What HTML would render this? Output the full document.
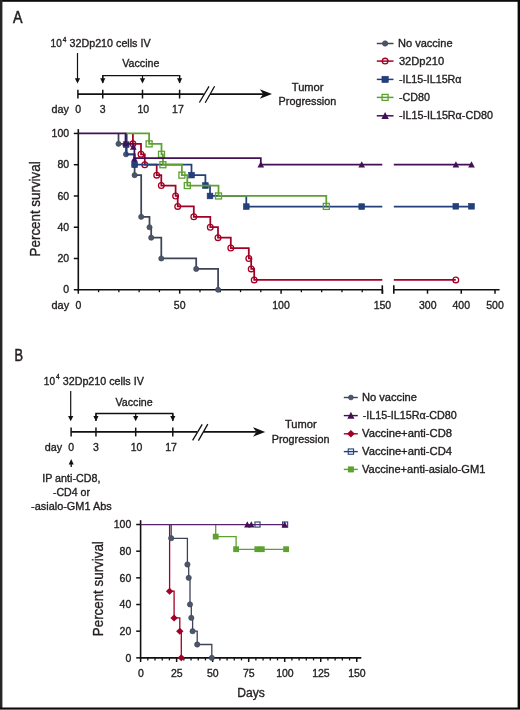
<!DOCTYPE html><html><head><meta charset="utf-8"><style>html,body{margin:0;padding:0;background:#fff;width:520px;height:710px;overflow:hidden}svg{display:block;will-change:transform;font-family:"Liberation Sans",sans-serif}</style></head><body><svg width="520" height="710" viewBox="0 0 520 710" font-family="'Liberation Sans', sans-serif">
<rect x="0" y="0" width="520" height="710" fill="#fff"/>
<rect x="0" y="0" width="520" height="1.8" fill="#0c0c0c"/>
<rect x="0" y="0" width="2.4" height="709" fill="#262626"/>
<rect x="517.6" y="0" width="2.4" height="709" fill="#0a0a0a"/>
<rect x="0" y="707.5" width="520" height="1.5" fill="#0a0a0a"/>
<rect x="0" y="709" width="520" height="1" fill="#666"/>
<text x="13.10" y="22.60" font-size="16" textLength="9.50" lengthAdjust="spacingAndGlyphs" fill="#231f20" stroke="#231f20" stroke-width="0.35" style="stroke-width:0.55">A</text>
<text x="14.50" y="360.80" font-size="16" textLength="8.50" lengthAdjust="spacingAndGlyphs" fill="#231f20" stroke="#231f20" stroke-width="0.35" style="stroke-width:0.55">B</text>
<g transform="translate(0,0)">
<text x="50.60" y="47.00" font-size="10.5" textLength="11.20" lengthAdjust="spacingAndGlyphs" fill="#231f20" stroke="#231f20" stroke-width="0.35">10</text>
<text x="62.70" y="41.60" font-size="6.6" textLength="3.60" lengthAdjust="spacingAndGlyphs" fill="#231f20" stroke="#231f20" stroke-width="0.35">4</text>
<text x="69.50" y="47.00" font-size="10.5" textLength="81.10" lengthAdjust="spacingAndGlyphs" fill="#231f20" stroke="#231f20" stroke-width="0.35">32Dp210 cells IV</text>
<line x1="77.50" y1="53.00" x2="77.50" y2="79.50" stroke="#111" stroke-width="1.2"/>
<path d="M74.9 78.2L80.1 78.2L77.5 83.4Z" fill="#111"/>
<text x="122.30" y="67.30" font-size="10.5" textLength="37.10" lengthAdjust="spacingAndGlyphs" fill="#231f20" stroke="#231f20" stroke-width="0.35">Vaccine</text>
<path d="M102.75 83 V75.6 H179.6 V83" stroke="#111" stroke-width="1.3" fill="none"/>
<path d="M100.15 78.2L105.35 78.2L102.75 83.4Z" fill="#111"/>
<line x1="102.75" y1="75.60" x2="102.75" y2="80.00" stroke="#111" stroke-width="1.2"/>
<path d="M139.90 78.2L145.10 78.2L142.50 83.4Z" fill="#111"/>
<line x1="142.50" y1="75.60" x2="142.50" y2="80.00" stroke="#111" stroke-width="1.2"/>
<path d="M177.00 78.2L182.20 78.2L179.60 83.4Z" fill="#111"/>
<line x1="179.60" y1="75.60" x2="179.60" y2="80.00" stroke="#111" stroke-width="1.2"/>
<line x1="77.90" y1="94.05" x2="203.80" y2="94.05" stroke="#111" stroke-width="1.7"/>
<line x1="210.00" y1="94.05" x2="263.00" y2="94.05" stroke="#111" stroke-width="1.7"/>
<line x1="77.90" y1="89.70" x2="77.90" y2="98.50" stroke="#111" stroke-width="1.5"/>
<line x1="102.75" y1="89.70" x2="102.75" y2="98.50" stroke="#111" stroke-width="1.5"/>
<line x1="142.50" y1="89.70" x2="142.50" y2="98.50" stroke="#111" stroke-width="1.5"/>
<line x1="179.60" y1="89.70" x2="179.60" y2="98.50" stroke="#111" stroke-width="1.5"/>
<line x1="199.40" y1="102.50" x2="209.00" y2="86.40" stroke="#111" stroke-width="1.3"/>
<line x1="205.20" y1="102.70" x2="214.60" y2="86.20" stroke="#111" stroke-width="1.3"/>
<path d="M272 94.05 L259.8 89.3 L263.2 94.05 L259.8 98.8 Z" fill="#111"/>
<text x="291.80" y="90.60" font-size="10.5" textLength="31.70" lengthAdjust="spacingAndGlyphs" fill="#231f20" stroke="#231f20" stroke-width="0.35">Tumor</text>
<text x="278.60" y="104.90" font-size="10.5" textLength="57.60" lengthAdjust="spacingAndGlyphs" fill="#231f20" stroke="#231f20" stroke-width="0.35">Progression</text>
<text x="51.50" y="113.45" font-size="10.5" textLength="17.40" lengthAdjust="spacingAndGlyphs" fill="#231f20" stroke="#231f20" stroke-width="0.35">day</text>
<text x="78.10" y="113.45" font-size="10.5" text-anchor="middle" fill="#231f20" stroke="#231f20" stroke-width="0.35">0</text>
<text x="102.70" y="113.45" font-size="10.5" text-anchor="middle" fill="#231f20" stroke="#231f20" stroke-width="0.35">3</text>
<text x="143.30" y="113.45" font-size="10.5" text-anchor="middle" fill="#231f20" stroke="#231f20" stroke-width="0.35">10</text>
<text x="177.90" y="113.45" font-size="10.5" text-anchor="middle" fill="#231f20" stroke="#231f20" stroke-width="0.35">17</text>
</g>
<line x1="78.30" y1="129.10" x2="78.30" y2="290.60" stroke="#111" stroke-width="1.6"/>
<line x1="73.80" y1="289.75" x2="78.30" y2="289.75" stroke="#111" stroke-width="1.5"/>
<text x="69.10" y="293.35" font-size="10.5" text-anchor="end" fill="#231f20" stroke="#231f20" stroke-width="0.35">0</text>
<line x1="73.80" y1="258.49" x2="78.30" y2="258.49" stroke="#111" stroke-width="1.5"/>
<text x="69.10" y="262.09" font-size="10.5" text-anchor="end" fill="#231f20" stroke="#231f20" stroke-width="0.35">20</text>
<line x1="73.80" y1="227.23" x2="78.30" y2="227.23" stroke="#111" stroke-width="1.5"/>
<text x="69.10" y="230.83" font-size="10.5" text-anchor="end" fill="#231f20" stroke="#231f20" stroke-width="0.35">40</text>
<line x1="73.80" y1="195.97" x2="78.30" y2="195.97" stroke="#111" stroke-width="1.5"/>
<text x="69.10" y="199.57" font-size="10.5" text-anchor="end" fill="#231f20" stroke="#231f20" stroke-width="0.35">60</text>
<line x1="73.80" y1="164.71" x2="78.30" y2="164.71" stroke="#111" stroke-width="1.5"/>
<text x="69.10" y="168.31" font-size="10.5" text-anchor="end" fill="#231f20" stroke="#231f20" stroke-width="0.35">80</text>
<line x1="73.80" y1="133.45" x2="78.30" y2="133.45" stroke="#111" stroke-width="1.5"/>
<text x="69.10" y="137.05" font-size="10.5" text-anchor="end" fill="#231f20" stroke="#231f20" stroke-width="0.35">100</text>
<line x1="77.50" y1="289.75" x2="382.80" y2="289.75" stroke="#111" stroke-width="1.7"/>
<line x1="382.30" y1="285.30" x2="382.30" y2="293.70" stroke="#111" stroke-width="1.6"/>
<line x1="78.30" y1="289.75" x2="78.30" y2="293.70" stroke="#111" stroke-width="1.5"/>
<line x1="98.58" y1="289.75" x2="98.58" y2="292.20" stroke="#111" stroke-width="1.3"/>
<line x1="118.86" y1="289.75" x2="118.86" y2="292.20" stroke="#111" stroke-width="1.3"/>
<line x1="139.14" y1="289.75" x2="139.14" y2="292.20" stroke="#111" stroke-width="1.3"/>
<line x1="159.42" y1="289.75" x2="159.42" y2="292.20" stroke="#111" stroke-width="1.3"/>
<line x1="179.70" y1="289.75" x2="179.70" y2="293.70" stroke="#111" stroke-width="1.5"/>
<line x1="199.98" y1="289.75" x2="199.98" y2="292.20" stroke="#111" stroke-width="1.3"/>
<line x1="220.26" y1="289.75" x2="220.26" y2="292.20" stroke="#111" stroke-width="1.3"/>
<line x1="240.54" y1="289.75" x2="240.54" y2="292.20" stroke="#111" stroke-width="1.3"/>
<line x1="260.82" y1="289.75" x2="260.82" y2="292.20" stroke="#111" stroke-width="1.3"/>
<line x1="281.10" y1="289.75" x2="281.10" y2="293.70" stroke="#111" stroke-width="1.5"/>
<line x1="301.38" y1="289.75" x2="301.38" y2="292.20" stroke="#111" stroke-width="1.3"/>
<line x1="321.66" y1="289.75" x2="321.66" y2="292.20" stroke="#111" stroke-width="1.3"/>
<line x1="341.94" y1="289.75" x2="341.94" y2="292.20" stroke="#111" stroke-width="1.3"/>
<line x1="362.22" y1="289.75" x2="362.22" y2="292.20" stroke="#111" stroke-width="1.3"/>
<line x1="382.50" y1="289.75" x2="382.50" y2="293.70" stroke="#111" stroke-width="1.5"/>
<line x1="393.30" y1="289.75" x2="499.60" y2="289.75" stroke="#111" stroke-width="1.7"/>
<line x1="393.80" y1="285.30" x2="393.80" y2="293.70" stroke="#111" stroke-width="1.6"/>
<line x1="427.50" y1="289.75" x2="427.50" y2="293.70" stroke="#111" stroke-width="1.5"/>
<line x1="461.25" y1="289.75" x2="461.25" y2="293.70" stroke="#111" stroke-width="1.5"/>
<line x1="495.00" y1="289.75" x2="495.00" y2="293.70" stroke="#111" stroke-width="1.5"/>
<line x1="528.75" y1="289.75" x2="528.75" y2="293.70" stroke="#111" stroke-width="1.5"/>
<text x="51.50" y="308.60" font-size="10.5" textLength="17.60" lengthAdjust="spacingAndGlyphs" fill="#231f20" stroke="#231f20" stroke-width="0.35">day</text>
<text x="78.40" y="308.60" font-size="10.5" text-anchor="middle" fill="#231f20" stroke="#231f20" stroke-width="0.35">0</text>
<text x="179.70" y="308.60" font-size="10.5" text-anchor="middle" fill="#231f20" stroke="#231f20" stroke-width="0.35">50</text>
<text x="281.00" y="308.60" font-size="10.5" text-anchor="middle" fill="#231f20" stroke="#231f20" stroke-width="0.35">100</text>
<text x="382.40" y="308.60" font-size="10.5" text-anchor="middle" fill="#231f20" stroke="#231f20" stroke-width="0.35">150</text>
<text x="427.80" y="308.60" font-size="10.5" text-anchor="middle" fill="#231f20" stroke="#231f20" stroke-width="0.35">300</text>
<text x="461.30" y="308.60" font-size="10.5" text-anchor="middle" fill="#231f20" stroke="#231f20" stroke-width="0.35">400</text>
<text x="495.00" y="308.60" font-size="10.5" text-anchor="middle" fill="#231f20" stroke="#231f20" stroke-width="0.35">500</text>
<text x="0" y="0" font-size="13.8" text-anchor="middle" textLength="95" lengthAdjust="spacingAndGlyphs" fill="#231f20" stroke="#231f20" stroke-width="0.35" transform="translate(40.2,208.9) rotate(-90)">Percent survival</text>
<path d="M118.5 133.45 H118.5 V143.87 H126 V154.29 H134.6 V164.71 H134.6 V175.13 H141.2 V216.81 H149.5 V227.23 H151.2 V237.65 H161.3 V258.49 H196.2 V268.91 H218.1 V289.75" stroke="#3d4457" stroke-width="1.75" fill="none"/>
<circle cx="118.50" cy="143.87" r="2.60" fill="#4d5569" stroke="#3d4457" stroke-width="0.6"/>
<circle cx="126.00" cy="154.29" r="2.60" fill="#4d5569" stroke="#3d4457" stroke-width="0.6"/>
<circle cx="134.60" cy="164.71" r="2.60" fill="#4d5569" stroke="#3d4457" stroke-width="0.6"/>
<circle cx="134.60" cy="175.13" r="2.60" fill="#4d5569" stroke="#3d4457" stroke-width="0.6"/>
<circle cx="141.20" cy="216.81" r="2.60" fill="#4d5569" stroke="#3d4457" stroke-width="0.6"/>
<circle cx="149.50" cy="227.23" r="2.60" fill="#4d5569" stroke="#3d4457" stroke-width="0.6"/>
<circle cx="151.20" cy="237.65" r="2.60" fill="#4d5569" stroke="#3d4457" stroke-width="0.6"/>
<circle cx="161.30" cy="258.49" r="2.60" fill="#4d5569" stroke="#3d4457" stroke-width="0.6"/>
<circle cx="196.20" cy="268.91" r="2.60" fill="#4d5569" stroke="#3d4457" stroke-width="0.6"/>
<circle cx="218.10" cy="289.75" r="2.60" fill="#4d5569" stroke="#3d4457" stroke-width="0.6"/>
<path d="M132.9 133.45 H132.9 V143.87 H141 V154.29 H144.8 V164.71 H156.7 V175.13 H161.3 V185.55 H175.6 V195.97 H177.7 V206.39 H193.8 V216.81 H210.3 V227.23 H218 V237.65 H230.8 V248.07 H248.8 V258.49 H251.2 V268.91 H254.2 V279.9 H382.3 M393.8 279.9 H455.8" stroke="#a20026" stroke-width="1.75" fill="none"/>
<circle cx="132.90" cy="143.87" r="2.85" fill="none" stroke="#a20026" stroke-width="1.3"/>
<circle cx="141.00" cy="154.29" r="2.85" fill="none" stroke="#a20026" stroke-width="1.3"/>
<circle cx="144.80" cy="164.71" r="2.85" fill="none" stroke="#a20026" stroke-width="1.3"/>
<circle cx="156.70" cy="175.13" r="2.85" fill="none" stroke="#a20026" stroke-width="1.3"/>
<circle cx="161.30" cy="185.55" r="2.85" fill="none" stroke="#a20026" stroke-width="1.3"/>
<circle cx="175.60" cy="195.97" r="2.85" fill="none" stroke="#a20026" stroke-width="1.3"/>
<circle cx="177.70" cy="206.39" r="2.85" fill="none" stroke="#a20026" stroke-width="1.3"/>
<circle cx="193.80" cy="216.81" r="2.85" fill="none" stroke="#a20026" stroke-width="1.3"/>
<circle cx="210.30" cy="227.23" r="2.85" fill="none" stroke="#a20026" stroke-width="1.3"/>
<circle cx="218.00" cy="237.65" r="2.85" fill="none" stroke="#a20026" stroke-width="1.3"/>
<circle cx="230.80" cy="248.07" r="2.85" fill="none" stroke="#a20026" stroke-width="1.3"/>
<circle cx="248.80" cy="258.49" r="2.85" fill="none" stroke="#a20026" stroke-width="1.3"/>
<circle cx="251.20" cy="268.91" r="2.85" fill="none" stroke="#a20026" stroke-width="1.3"/>
<circle cx="254.20" cy="279.90" r="2.85" fill="none" stroke="#a20026" stroke-width="1.3"/>
<circle cx="455.80" cy="279.90" r="2.85" fill="none" stroke="#a20026" stroke-width="1.3"/>
<path d="M126.7 133.45 H126.7 V154.29 H134.6 V164.71 H191.5 V175.13 H205.4 V185.55 H210 V195.97 H246.3 V206.7 H382.3 M393.8 206.7 H471.5" stroke="#23407a" stroke-width="1.75" fill="none"/>
<rect x="123.35" y="141.75" width="5.7" height="5.7" fill="#23407a" stroke="#1d3672" stroke-width="0.6"/>
<rect x="131.75" y="161.86" width="5.7" height="5.7" fill="#23407a" stroke="#1d3672" stroke-width="0.6"/>
<rect x="188.65" y="172.28" width="5.7" height="5.7" fill="#23407a" stroke="#1d3672" stroke-width="0.6"/>
<rect x="202.55" y="182.70" width="5.7" height="5.7" fill="#23407a" stroke="#1d3672" stroke-width="0.6"/>
<rect x="207.15" y="193.12" width="5.7" height="5.7" fill="#23407a" stroke="#1d3672" stroke-width="0.6"/>
<rect x="243.45" y="203.75" width="5.7" height="5.7" fill="#23407a" stroke="#1d3672" stroke-width="0.6"/>
<rect x="358.85" y="203.75" width="5.7" height="5.7" fill="#23407a" stroke="#1d3672" stroke-width="0.6"/>
<rect x="452.95" y="203.45" width="5.7" height="5.7" fill="#23407a" stroke="#1d3672" stroke-width="0.6"/>
<rect x="468.65" y="203.45" width="5.7" height="5.7" fill="#23407a" stroke="#1d3672" stroke-width="0.6"/>
<path d="M125.3 133.45 H149.1 V143.87 H161.5 V154.29 H162.9 V164.71 H181.9 V175.13 H187.3 V185.55 H218.5 V195.97 H326.3 V206.39" stroke="#5da131" stroke-width="1.75" fill="none"/>
<rect x="146.10" y="140.87" width="6.00" height="6.00" fill="none" stroke="#5da131" stroke-width="1.3"/>
<rect x="158.50" y="151.29" width="6.00" height="6.00" fill="none" stroke="#5da131" stroke-width="1.3"/>
<rect x="159.90" y="161.71" width="6.00" height="6.00" fill="none" stroke="#5da131" stroke-width="1.3"/>
<rect x="178.90" y="172.13" width="6.00" height="6.00" fill="none" stroke="#5da131" stroke-width="1.3"/>
<rect x="184.30" y="182.55" width="6.00" height="6.00" fill="none" stroke="#5da131" stroke-width="1.3"/>
<rect x="215.50" y="192.97" width="6.00" height="6.00" fill="none" stroke="#5da131" stroke-width="1.3"/>
<rect x="323.30" y="203.39" width="6.00" height="6.00" fill="none" stroke="#5da131" stroke-width="1.3"/>
<path d="M78.3 133.45 H125.5 V143.87 H133.3 V147.3 H134.4 V158.2 H260.8 V164.71 H382.3 M393.8 164.71 H471.5" stroke="#430f57" stroke-width="1.75" fill="none"/>
<path d="M125.50 139.95L128.80 146.22L122.20 146.22Z" fill="#430f57"/>
<path d="M133.30 143.55L136.60 149.82L130.00 149.82Z" fill="#430f57"/>
<path d="M134.40 155.55L137.70 161.82L131.10 161.82Z" fill="#430f57"/>
<path d="M260.80 161.26L264.10 167.53L257.50 167.53Z" fill="#430f57"/>
<path d="M361.70 161.26L365.00 167.53L358.40 167.53Z" fill="#430f57"/>
<path d="M455.90 161.26L459.20 167.53L452.60 167.53Z" fill="#430f57"/>
<path d="M471.50 161.26L474.80 167.53L468.20 167.53Z" fill="#430f57"/>
<line x1="376.80" y1="43.50" x2="393.50" y2="43.50" stroke="#3d4457" stroke-width="1.5"/>
<circle cx="385.10" cy="43.50" r="2.70" fill="#4d5569" stroke="#3d4457" stroke-width="0.6"/>
<text x="398.00" y="47.10" font-size="10.5" textLength="54.60" lengthAdjust="spacingAndGlyphs" fill="#231f20" stroke="#231f20" stroke-width="0.35">No vaccine</text>
<line x1="376.80" y1="61.10" x2="393.50" y2="61.10" stroke="#a20026" stroke-width="1.5"/>
<circle cx="385.10" cy="61.10" r="2.85" fill="none" stroke="#a20026" stroke-width="1.3"/>
<text x="398.90" y="64.70" font-size="10.5" textLength="45.20" lengthAdjust="spacingAndGlyphs" fill="#231f20" stroke="#231f20" stroke-width="0.35">32Dp210</text>
<line x1="376.80" y1="79.40" x2="393.50" y2="79.40" stroke="#23407a" stroke-width="1.5"/>
<rect x="381.95" y="76.25" width="6.3" height="6.3" fill="#23407a" stroke="#1d3672" stroke-width="0.6"/>
<text x="398.90" y="83.00" font-size="10.5" textLength="62.60" lengthAdjust="spacingAndGlyphs" fill="#231f20" stroke="#231f20" stroke-width="0.35">-IL15-IL15R&#945;</text>
<line x1="376.80" y1="97.40" x2="393.50" y2="97.40" stroke="#5da131" stroke-width="1.5"/>
<rect x="382.10" y="94.40" width="6.00" height="6.00" fill="none" stroke="#5da131" stroke-width="1.3"/>
<text x="398.90" y="101.00" font-size="10.5" textLength="31.00" lengthAdjust="spacingAndGlyphs" fill="#231f20" stroke="#231f20" stroke-width="0.35">-CD80</text>
<line x1="376.80" y1="115.80" x2="393.50" y2="115.80" stroke="#430f57" stroke-width="1.5"/>
<path d="M385.10 111.93L388.80 118.96L381.40 118.96Z" fill="#430f57"/>
<text x="398.90" y="119.40" font-size="10.5" textLength="94.00" lengthAdjust="spacingAndGlyphs" fill="#231f20" stroke="#231f20" stroke-width="0.35">-IL15-IL15R&#945;-CD80</text>
<g transform="translate(-6.8,337.9)">
<text x="50.60" y="47.00" font-size="10.5" textLength="11.20" lengthAdjust="spacingAndGlyphs" fill="#231f20" stroke="#231f20" stroke-width="0.35">10</text>
<text x="62.70" y="41.60" font-size="6.6" textLength="3.60" lengthAdjust="spacingAndGlyphs" fill="#231f20" stroke="#231f20" stroke-width="0.35">4</text>
<text x="69.50" y="47.00" font-size="10.5" textLength="81.10" lengthAdjust="spacingAndGlyphs" fill="#231f20" stroke="#231f20" stroke-width="0.35">32Dp210 cells IV</text>
<line x1="77.50" y1="53.00" x2="77.50" y2="79.50" stroke="#111" stroke-width="1.2"/>
<path d="M74.9 78.2L80.1 78.2L77.5 83.4Z" fill="#111"/>
<text x="122.30" y="67.70" font-size="10.5" textLength="37.10" lengthAdjust="spacingAndGlyphs" fill="#231f20" stroke="#231f20" stroke-width="0.35">Vaccine</text>
<path d="M102.75 83 V75.6 H179.6 V83" stroke="#111" stroke-width="1.3" fill="none"/>
<path d="M100.15 78.2L105.35 78.2L102.75 83.4Z" fill="#111"/>
<line x1="102.75" y1="75.60" x2="102.75" y2="80.00" stroke="#111" stroke-width="1.2"/>
<path d="M139.90 78.2L145.10 78.2L142.50 83.4Z" fill="#111"/>
<line x1="142.50" y1="75.60" x2="142.50" y2="80.00" stroke="#111" stroke-width="1.2"/>
<path d="M177.00 78.2L182.20 78.2L179.60 83.4Z" fill="#111"/>
<line x1="179.60" y1="75.60" x2="179.60" y2="80.00" stroke="#111" stroke-width="1.2"/>
<line x1="77.90" y1="94.05" x2="203.80" y2="94.05" stroke="#111" stroke-width="1.7"/>
<line x1="210.00" y1="94.05" x2="263.00" y2="94.05" stroke="#111" stroke-width="1.7"/>
<line x1="77.90" y1="89.70" x2="77.90" y2="98.50" stroke="#111" stroke-width="1.5"/>
<line x1="102.75" y1="89.70" x2="102.75" y2="98.50" stroke="#111" stroke-width="1.5"/>
<line x1="142.50" y1="89.70" x2="142.50" y2="98.50" stroke="#111" stroke-width="1.5"/>
<line x1="179.60" y1="89.70" x2="179.60" y2="98.50" stroke="#111" stroke-width="1.5"/>
<line x1="199.40" y1="102.50" x2="209.00" y2="86.40" stroke="#111" stroke-width="1.3"/>
<line x1="205.20" y1="102.70" x2="214.60" y2="86.20" stroke="#111" stroke-width="1.3"/>
<path d="M272 94.05 L259.8 89.3 L263.2 94.05 L259.8 98.8 Z" fill="#111"/>
<text x="291.80" y="90.60" font-size="10.5" textLength="31.70" lengthAdjust="spacingAndGlyphs" fill="#231f20" stroke="#231f20" stroke-width="0.35">Tumor</text>
<text x="278.60" y="104.90" font-size="10.5" textLength="57.60" lengthAdjust="spacingAndGlyphs" fill="#231f20" stroke="#231f20" stroke-width="0.35">Progression</text>
<text x="51.50" y="113.45" font-size="10.5" textLength="17.40" lengthAdjust="spacingAndGlyphs" fill="#231f20" stroke="#231f20" stroke-width="0.35">day</text>
<text x="78.10" y="113.45" font-size="10.5" text-anchor="middle" fill="#231f20" stroke="#231f20" stroke-width="0.35">0</text>
<text x="102.70" y="113.45" font-size="10.5" text-anchor="middle" fill="#231f20" stroke="#231f20" stroke-width="0.35">3</text>
<text x="143.30" y="113.45" font-size="10.5" text-anchor="middle" fill="#231f20" stroke="#231f20" stroke-width="0.35">10</text>
<text x="177.90" y="113.45" font-size="10.5" text-anchor="middle" fill="#231f20" stroke="#231f20" stroke-width="0.35">17</text>
</g>
<line x1="71.20" y1="463.50" x2="71.20" y2="466.90" stroke="#111" stroke-width="1.3"/>
<path d="M68.7 464.6L73.7 464.6L71.2 458.9Z" fill="#111"/>
<text x="71.30" y="481.70" font-size="10.5" text-anchor="middle" textLength="58.20" lengthAdjust="spacingAndGlyphs" fill="#231f20" stroke="#231f20" stroke-width="0.35">IP anti-CD8,</text>
<text x="71.50" y="495.60" font-size="10.5" text-anchor="middle" textLength="37.10" lengthAdjust="spacingAndGlyphs" fill="#231f20" stroke="#231f20" stroke-width="0.35">-CD4 or</text>
<text x="71.40" y="509.90" font-size="10.5" text-anchor="middle" textLength="80.60" lengthAdjust="spacingAndGlyphs" fill="#231f20" stroke="#231f20" stroke-width="0.35">-asialo-GM1 Abs</text>
<line x1="140.60" y1="520.20" x2="140.60" y2="658.60" stroke="#111" stroke-width="1.6"/>
<line x1="136.20" y1="657.85" x2="140.60" y2="657.85" stroke="#111" stroke-width="1.5"/>
<text x="131.30" y="661.75" font-size="10.5" text-anchor="end" fill="#231f20" stroke="#231f20" stroke-width="0.35">0</text>
<line x1="136.20" y1="631.18" x2="140.60" y2="631.18" stroke="#111" stroke-width="1.5"/>
<text x="131.30" y="635.08" font-size="10.5" text-anchor="end" fill="#231f20" stroke="#231f20" stroke-width="0.35">20</text>
<line x1="136.20" y1="604.52" x2="140.60" y2="604.52" stroke="#111" stroke-width="1.5"/>
<text x="131.30" y="608.42" font-size="10.5" text-anchor="end" fill="#231f20" stroke="#231f20" stroke-width="0.35">40</text>
<line x1="136.20" y1="577.85" x2="140.60" y2="577.85" stroke="#111" stroke-width="1.5"/>
<text x="131.30" y="581.75" font-size="10.5" text-anchor="end" fill="#231f20" stroke="#231f20" stroke-width="0.35">60</text>
<line x1="136.20" y1="551.19" x2="140.60" y2="551.19" stroke="#111" stroke-width="1.5"/>
<text x="131.30" y="555.09" font-size="10.5" text-anchor="end" fill="#231f20" stroke="#231f20" stroke-width="0.35">80</text>
<line x1="136.20" y1="524.52" x2="140.60" y2="524.52" stroke="#111" stroke-width="1.5"/>
<text x="131.30" y="528.42" font-size="10.5" text-anchor="end" fill="#231f20" stroke="#231f20" stroke-width="0.35">100</text>
<line x1="139.90" y1="657.85" x2="361.30" y2="657.85" stroke="#111" stroke-width="1.7"/>
<line x1="140.60" y1="657.85" x2="140.60" y2="662.00" stroke="#111" stroke-width="1.5"/>
<line x1="147.81" y1="657.85" x2="147.81" y2="660.40" stroke="#111" stroke-width="1.3"/>
<line x1="155.01" y1="657.85" x2="155.01" y2="660.40" stroke="#111" stroke-width="1.3"/>
<line x1="162.22" y1="657.85" x2="162.22" y2="660.40" stroke="#111" stroke-width="1.3"/>
<line x1="169.42" y1="657.85" x2="169.42" y2="660.40" stroke="#111" stroke-width="1.3"/>
<line x1="176.62" y1="657.85" x2="176.62" y2="662.00" stroke="#111" stroke-width="1.5"/>
<line x1="183.83" y1="657.85" x2="183.83" y2="660.40" stroke="#111" stroke-width="1.3"/>
<line x1="191.03" y1="657.85" x2="191.03" y2="660.40" stroke="#111" stroke-width="1.3"/>
<line x1="198.24" y1="657.85" x2="198.24" y2="660.40" stroke="#111" stroke-width="1.3"/>
<line x1="205.44" y1="657.85" x2="205.44" y2="660.40" stroke="#111" stroke-width="1.3"/>
<line x1="212.65" y1="657.85" x2="212.65" y2="662.00" stroke="#111" stroke-width="1.5"/>
<line x1="219.86" y1="657.85" x2="219.86" y2="660.40" stroke="#111" stroke-width="1.3"/>
<line x1="227.06" y1="657.85" x2="227.06" y2="660.40" stroke="#111" stroke-width="1.3"/>
<line x1="234.26" y1="657.85" x2="234.26" y2="660.40" stroke="#111" stroke-width="1.3"/>
<line x1="241.47" y1="657.85" x2="241.47" y2="660.40" stroke="#111" stroke-width="1.3"/>
<line x1="248.68" y1="657.85" x2="248.68" y2="662.00" stroke="#111" stroke-width="1.5"/>
<line x1="255.88" y1="657.85" x2="255.88" y2="660.40" stroke="#111" stroke-width="1.3"/>
<line x1="263.08" y1="657.85" x2="263.08" y2="660.40" stroke="#111" stroke-width="1.3"/>
<line x1="270.29" y1="657.85" x2="270.29" y2="660.40" stroke="#111" stroke-width="1.3"/>
<line x1="277.50" y1="657.85" x2="277.50" y2="660.40" stroke="#111" stroke-width="1.3"/>
<line x1="284.70" y1="657.85" x2="284.70" y2="662.00" stroke="#111" stroke-width="1.5"/>
<line x1="291.90" y1="657.85" x2="291.90" y2="660.40" stroke="#111" stroke-width="1.3"/>
<line x1="299.11" y1="657.85" x2="299.11" y2="660.40" stroke="#111" stroke-width="1.3"/>
<line x1="306.31" y1="657.85" x2="306.31" y2="660.40" stroke="#111" stroke-width="1.3"/>
<line x1="313.52" y1="657.85" x2="313.52" y2="660.40" stroke="#111" stroke-width="1.3"/>
<line x1="320.73" y1="657.85" x2="320.73" y2="662.00" stroke="#111" stroke-width="1.5"/>
<line x1="327.93" y1="657.85" x2="327.93" y2="660.40" stroke="#111" stroke-width="1.3"/>
<line x1="335.13" y1="657.85" x2="335.13" y2="660.40" stroke="#111" stroke-width="1.3"/>
<line x1="342.34" y1="657.85" x2="342.34" y2="660.40" stroke="#111" stroke-width="1.3"/>
<line x1="349.55" y1="657.85" x2="349.55" y2="660.40" stroke="#111" stroke-width="1.3"/>
<line x1="356.75" y1="657.85" x2="356.75" y2="662.00" stroke="#111" stroke-width="1.5"/>
<text x="140.80" y="676.60" font-size="10.5" text-anchor="middle" fill="#231f20" stroke="#231f20" stroke-width="0.35">0</text>
<text x="176.82" y="676.60" font-size="10.5" text-anchor="middle" fill="#231f20" stroke="#231f20" stroke-width="0.35">25</text>
<text x="212.85" y="676.60" font-size="10.5" text-anchor="middle" fill="#231f20" stroke="#231f20" stroke-width="0.35">50</text>
<text x="248.88" y="676.60" font-size="10.5" text-anchor="middle" fill="#231f20" stroke="#231f20" stroke-width="0.35">75</text>
<text x="284.90" y="676.60" font-size="10.5" text-anchor="middle" fill="#231f20" stroke="#231f20" stroke-width="0.35">100</text>
<text x="320.93" y="676.60" font-size="10.5" text-anchor="middle" fill="#231f20" stroke="#231f20" stroke-width="0.35">125</text>
<text x="356.95" y="676.60" font-size="10.5" text-anchor="middle" fill="#231f20" stroke="#231f20" stroke-width="0.35">150</text>
<text x="237.30" y="696.60" font-size="12.4" textLength="27.60" lengthAdjust="spacingAndGlyphs" fill="#231f20" stroke="#231f20" stroke-width="0.35">Days</text>
<text x="0" y="0" font-size="13.8" text-anchor="middle" textLength="95" lengthAdjust="spacingAndGlyphs" fill="#231f20" stroke="#231f20" stroke-width="0.35" transform="translate(102.7,588.7) rotate(-90)">Percent survival</text>
<path d="M169.6 524.55 V591.2 H174.1 V617.8 H179.8 V631.1 H181.3 V657.85" stroke="#a20026" stroke-width="1.3" fill="none"/>
<path d="M169.60 587.80L173.30 591.30L169.60 594.80L165.90 591.30Z" fill="#a20026"/>
<path d="M174.10 614.40L177.80 617.90L174.10 621.40L170.40 617.90Z" fill="#a20026"/>
<path d="M179.80 627.70L183.50 631.20L179.80 634.70L176.10 631.20Z" fill="#a20026"/>
<path d="M181.30 654.35L185.00 657.85L181.30 661.35L177.60 657.85Z" fill="#a20026"/>
<path d="M171.2 524.55 V538.3 H187.4 V564.5 H188.7 V577.8 H190.0 V604.4 H191.3 V617.8 H192.6 V631.2 H197.2 V644.5 H211.8 V657.85" stroke="#3d4457" stroke-width="1.3" fill="none"/>
<circle cx="171.20" cy="538.20" r="2.65" fill="#4d5569" stroke="#3d4457" stroke-width="0.6"/>
<circle cx="187.40" cy="564.50" r="2.65" fill="#4d5569" stroke="#3d4457" stroke-width="0.6"/>
<circle cx="188.70" cy="577.80" r="2.65" fill="#4d5569" stroke="#3d4457" stroke-width="0.6"/>
<circle cx="190.00" cy="604.40" r="2.65" fill="#4d5569" stroke="#3d4457" stroke-width="0.6"/>
<circle cx="191.30" cy="617.80" r="2.65" fill="#4d5569" stroke="#3d4457" stroke-width="0.6"/>
<circle cx="192.60" cy="631.20" r="2.65" fill="#4d5569" stroke="#3d4457" stroke-width="0.6"/>
<circle cx="197.20" cy="644.50" r="2.65" fill="#4d5569" stroke="#3d4457" stroke-width="0.6"/>
<circle cx="211.80" cy="657.85" r="2.65" fill="#4d5569" stroke="#3d4457" stroke-width="0.6"/>
<path d="M215.7 524.55 V536.6 H236.1 V549.3 H286.1" stroke="#5da131" stroke-width="1.3" fill="none"/>
<rect x="212.80" y="533.70" width="5.8" height="5.8" fill="#5da131"/>
<rect x="233.20" y="546.30" width="5.8" height="5.8" fill="#5da131"/>
<rect x="254.40" y="546.30" width="5.8" height="5.8" fill="#5da131"/>
<rect x="258.90" y="546.30" width="5.8" height="5.8" fill="#5da131"/>
<rect x="283.20" y="546.30" width="5.8" height="5.8" fill="#5da131"/>
<rect x="254.95" y="522.00" width="5.10" height="5.10" fill="none" stroke="#23407a" stroke-width="1.1"/>
<rect x="282.55" y="522.00" width="5.10" height="5.10" fill="none" stroke="#23407a" stroke-width="1.1"/>
<path d="M140.6 524.55 H284.7" stroke="#55246c" stroke-width="1.3" fill="none"/>
<path d="M247.30 521.31L250.50 527.39L244.10 527.39Z" fill="#430f57"/>
<path d="M251.30 521.31L254.50 527.39L248.10 527.39Z" fill="#430f57"/>
<path d="M284.70 521.31L287.90 527.39L281.50 527.39Z" fill="#430f57"/>
<line x1="343.80" y1="397.50" x2="357.80" y2="397.50" stroke="#3d4457" stroke-width="1.4"/>
<circle cx="350.90" cy="397.50" r="2.45" fill="#4d5569" stroke="#3d4457" stroke-width="0.6"/>
<text x="362.00" y="401.00" font-size="10.5" textLength="55.00" lengthAdjust="spacingAndGlyphs" fill="#231f20" stroke="#231f20" stroke-width="0.35">No vaccine</text>
<line x1="343.80" y1="415.60" x2="357.80" y2="415.60" stroke="#430f57" stroke-width="1.4"/>
<path d="M350.90 411.84L354.50 418.68L347.30 418.68Z" fill="#430f57"/>
<text x="362.80" y="419.10" font-size="10.5" textLength="94.00" lengthAdjust="spacingAndGlyphs" fill="#231f20" stroke="#231f20" stroke-width="0.35">-IL15-IL15R&#945;-CD80</text>
<line x1="343.80" y1="433.80" x2="357.80" y2="433.80" stroke="#a20026" stroke-width="1.4"/>
<path d="M350.90 430.00L354.80 433.80L350.90 437.60L347.00 433.80Z" fill="#a20026"/>
<text x="362.00" y="437.30" font-size="10.5" textLength="90.00" lengthAdjust="spacingAndGlyphs" fill="#231f20" stroke="#231f20" stroke-width="0.35">Vaccine+anti-CD8</text>
<line x1="343.80" y1="451.60" x2="357.80" y2="451.60" stroke="#23407a" stroke-width="1.4"/>
<rect x="348.25" y="448.95" width="5.30" height="5.30" fill="none" stroke="#23407a" stroke-width="1.1"/>
<text x="362.00" y="455.10" font-size="10.5" textLength="90.00" lengthAdjust="spacingAndGlyphs" fill="#231f20" stroke="#231f20" stroke-width="0.35">Vaccine+anti-CD4</text>
<line x1="343.80" y1="469.40" x2="357.80" y2="469.40" stroke="#5da131" stroke-width="1.4"/>
<rect x="347.90" y="466.40" width="6.0" height="6.0" fill="#5da131"/>
<text x="362.00" y="472.90" font-size="10.5" textLength="123.30" lengthAdjust="spacingAndGlyphs" fill="#231f20" stroke="#231f20" stroke-width="0.35">Vaccine+anti-asialo-GM1</text>
</svg></body></html>
